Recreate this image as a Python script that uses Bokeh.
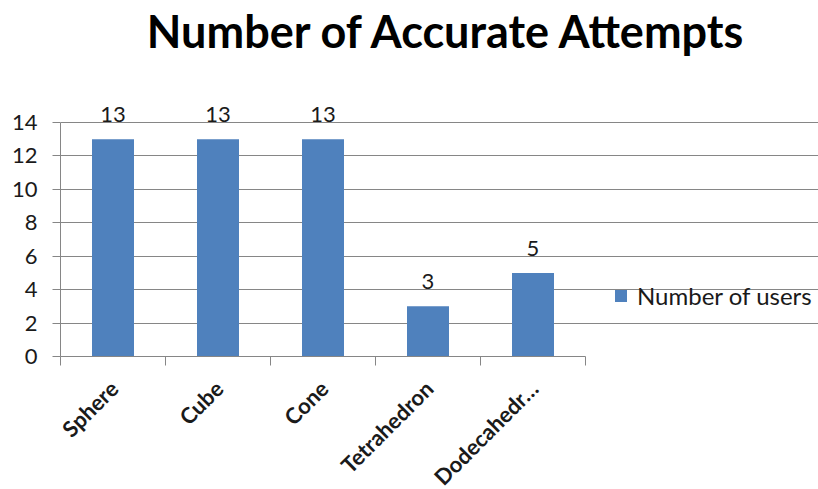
import math
from bokeh.plotting import figure
from bokeh.layouts import column
from bokeh.models import (ColumnDataSource, FixedTicker, LabelSet, Label, Legend, LegendItem, Range1d)
from bokeh.embed import file_html
from bokeh.resources import INLINE
from bokeh.core.properties import value

categories = ["Sphere", "Cube", "Cone", "Tetrahedron", "Dodecahedr\u2026"]
users = [13, 13, 13, 3, 5]
y_ticks = [0, 2, 4, 6, 8, 10, 12, 14]
title_text = "Number of Accurate Attempts"
series_name = "Number of users"

BAR = "#4F81BD"
GRAY = "#868686"
FONT = "Lato"
TXT = "#1a1a1a"

W, H = 818, 489
AX_LEFT, AX_RIGHT, AX_TOP, AX_BOTTOM = 60, 585, 122, 356
TOP_H = 368            # height of the main figure (frame + x ticks)
LAB_H = H - TOP_H      # strip below, holding the rotated category labels
Y_MAX = 14
n = len(categories)
unit = n / (AX_RIGHT - AX_LEFT)          # data units per pixel along x
y_end = Y_MAX * AX_BOTTOM / (AX_BOTTOM - AX_TOP)
x_end = (W - AX_LEFT) * unit
x_range = Range1d(0, x_end)

xs = [i + 0.5 for i in range(n)]
src = ColumnDataSource(dict(x=xs, y=users, lab=[str(v) for v in users]))
cat_src = ColumnDataSource(dict(x=xs, cat=categories))

p = figure(width=W, height=TOP_H, output_backend="svg", toolbar_location=None,
           x_range=x_range, y_range=Range1d(0, y_end),
           min_border_left=AX_LEFT, min_border_right=0, min_border_top=0,
           min_border_bottom=TOP_H - AX_BOTTOM)
p.outline_line_color = None
p.background_fill_color = "white"
p.border_fill_color = "white"

r = p.vbar(x="x", top="y", width=0.4, source=src, fill_color=BAR, line_color=None)

# y axis
p.yaxis.ticker = FixedTicker(ticks=y_ticks)
p.yaxis.bounds = (0, Y_MAX)
p.yaxis.axis_line_color = GRAY
p.yaxis.major_tick_line_color = GRAY
p.yaxis.major_tick_in = 0
p.yaxis.major_tick_out = 8
p.yaxis.minor_tick_line_color = None
p.yaxis.major_label_text_font = FONT
p.yaxis.major_label_text_font_size = "22px"
p.yaxis.major_label_text_color = TXT
p.yaxis.major_label_standoff = 15
p.ygrid.ticker = FixedTicker(ticks=y_ticks)
p.ygrid.bounds = (0, n)
p.ygrid.grid_line_color = GRAY
p.ygrid.grid_line_width = 1
p.xgrid.grid_line_color = None

# x axis (ticks at category boundaries; labels drawn in the strip below)
p.xaxis.ticker = FixedTicker(ticks=xs, minor_ticks=list(range(n + 1)))
p.xaxis.bounds = (0, n)
p.xaxis.major_label_overrides = {x: "" for x in xs}
p.xaxis.major_label_text_font_size = "0px"
p.xaxis.major_label_standoff = 0
p.xaxis.axis_line_color = GRAY
p.xaxis.major_tick_line_color = None
p.xaxis.minor_tick_line_color = GRAY
p.xaxis.minor_tick_in = 0
p.xaxis.minor_tick_out = 9

labels = LabelSet(x="x", y="y", text="lab", source=src, text_align="center",
                  text_baseline="alphabetic", y_offset=17, text_font=value(FONT),
                  text_font_size="22px", text_color=TXT)
p.add_layout(labels)

title = Label(x=447 - AX_LEFT, y=AX_BOTTOM - 30, x_units="screen", y_units="screen",
              text=title_text, text_align="center", text_baseline="middle",
              text_font=FONT, text_font_style="bold", text_font_size="45px",
              text_color="black")
p.add_layout(title)

legend = Legend(items=[LegendItem(label=series_name, renderers=[r])],
                location=(553, 46), glyph_width=15, glyph_height=15,
                label_text_font=FONT, label_text_font_size="24px",
                label_text_color=TXT, label_standoff=9,
                border_line_color=None, background_fill_alpha=0,
                padding=0, margin=0)
p.add_layout(legend)

# strip with rotated category labels (same x mapping as the main chart)
q = figure(width=W, height=LAB_H, output_backend="svg", toolbar_location=None,
           x_range=x_range, y_range=Range1d(0, LAB_H),
           x_axis_type=None, y_axis_type=None,
           min_border_left=AX_LEFT, min_border_right=0, min_border_top=0,
           min_border_bottom=0)
q.outline_line_color = None
q.grid.grid_line_color = None
q.background_fill_color = "white"
q.border_fill_color = "white"
cat_labels = LabelSet(x="x", y=LAB_H - 16, y_units="screen", text="cat", source=cat_src,
                      angle=math.pi / 4, text_align="right", text_baseline="middle",
                      x_offset=1, text_font=value(FONT), text_font_style="bold",
                      text_font_size="22px", text_color=TXT)
q.add_layout(cat_labels)

layout = column(p, q, spacing=0)
open("out.html", "w").write(file_html(layout, INLINE))
